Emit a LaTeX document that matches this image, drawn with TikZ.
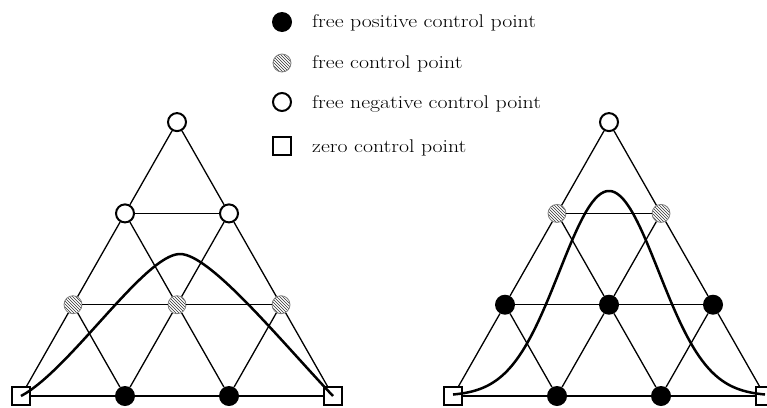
\documentclass[tikz,border=0pt]{standalone}
\usepackage{fontspec}
\usepackage{graphicx}
\usetikzlibrary{patterns}
\tikzset{
 cpos/.style={circle, fill=black, minimum size=20pt, inner sep=0pt},
 cneg/.style={circle, draw=black, line width=2pt, fill=white, minimum size=18pt, inner sep=0pt},
 cfree/.style={circle, draw=gray, line width=0.8pt, preaction={fill=white}, pattern=north west lines, pattern color=black!80, minimum size=18pt, inner sep=0pt},
 czero/.style={rectangle, draw=black, line width=2pt, fill=white, minimum size=18pt, inner sep=0pt},
 gridline/.style={line width=1.3pt, black},
 bump/.style={line width=2.5pt, black},
 lbl/.style={anchor=base west, inner sep=0pt, font=\fontsize{18}{20}\selectfont}
}
\begin{document}
\begin{tikzpicture}[x=1pt,y=-1pt]
\useasboundingbox (0,0) rectangle (767,407);
% legend
\node[cpos]  (k1) at (282,22) {};
\node[cfree] (k2) at (282,63) {};
\node[cneg]  (k3) at (282,102) {};
\node[czero] (k4) at (282,146) {};
\node[lbl] (t1) at (312,27)  {\scalebox{1.21}[1.02]{free positive control point}};
\node[lbl] (t2) at (312,68)  {\scalebox{1.21}[1.02]{free control point}};
\node[lbl] (t3) at (312,108) {\scalebox{1.21}[1.02]{free negative control point}};
\node[lbl] (t4) at (312,152) {\scalebox{1.21}[1.02]{zero control point}};
% left triangle
\node[czero] (L-0-0) at (21,396) {};
\node[cpos]  (L-1-0) at (125,396) {};
\node[cpos]  (L-2-0) at (229,396) {};
\node[czero] (L-3-0) at (333,396) {};
\node[cfree] (L-0-1) at (73,304.7) {};
\node[cfree] (L-1-1) at (177,304.7) {};
\node[cfree] (L-2-1) at (281,304.7) {};
\node[cneg]  (L-0-2) at (125,213.4) {};
\node[cneg]  (L-1-2) at (229,213.4) {};
\node[cneg]  (L-0-3) at (177,122.1) {};
% right triangle
\node[czero] (R-0-0) at (453,396) {};
\node[cpos]  (R-1-0) at (557,396) {};
\node[cpos]  (R-2-0) at (661,396) {};
\node[czero] (R-3-0) at (765,396) {};
\node[cpos]  (R-0-1) at (505,304.7) {};
\node[cpos]  (R-1-1) at (609,304.7) {};
\node[cpos]  (R-2-1) at (713,304.7) {};
\node[cfree] (R-0-2) at (557,213.4) {};
\node[cfree] (R-1-2) at (661,213.4) {};
\node[cneg]  (R-0-3) at (609,122.1) {};
% grid lines
\foreach \S in {L,R}{
  \foreach \a/\b in {0-0/1-0,1-0/2-0,2-0/3-0,0-1/1-1,1-1/2-1,0-2/1-2,
                     0-0/0-1,1-0/1-1,2-0/2-1,0-1/0-2,1-1/1-2,0-2/0-3,
                     1-0/0-1,2-0/1-1,3-0/2-1,1-1/0-2,2-1/1-2,1-2/0-3}{
    \draw[gridline] (\S-\a) -- (\S-\b);
  }
}
% curves
\draw[bump] (L-0-0.center) .. controls (70,370) and (145,254) .. (180,254)
            .. controls (210,254) and (280,340) .. (L-3-0.center);
\draw[bump] plot[domain=453:765, samples=140] (\x, {396-205*exp(-pow((\x-609)/70.3,2))});
\end{tikzpicture}
\end{document}
